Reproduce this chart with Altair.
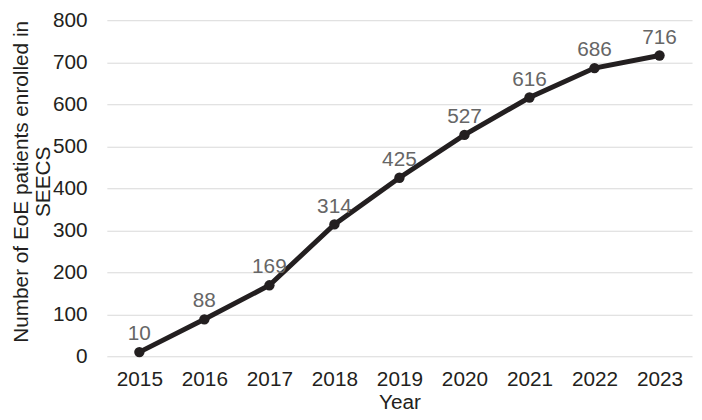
import altair as alt
import pandas as pd

years = ["2015", "2016", "2017", "2018", "2019", "2020", "2021", "2022", "2023"]
patients = [10, 88, 169, 314, 425, 527, 616, 686, 716]

df = pd.DataFrame({"Year": years, "Patients": patients})

FONT = "Liberation Sans"

x = alt.X("Year:N", sort=years,
          scale=alt.Scale(type="point", padding=0.5),
          axis=alt.Axis(title="Year", labelAngle=0, domain=False, ticks=False,
                        labelPadding=13, titlePadding=2, grid=False))
y = alt.Y("Patients:Q",
          scale=alt.Scale(domain=[0, 800], nice=False),
          axis=alt.Axis(title=["Number of EoE patients enrolled in", "SEECS"],
                        values=list(range(0, 801, 100)), domain=False, ticks=False,
                        labelPadding=20, gridColor="#d9d9d9", gridWidth=1,
                        titleAngle=-90, titleX=-86, titleY=163,
                        titleAlign="center", titleBaseline="middle",
                        titleLineHeight=22))

base = alt.Chart(df).encode(x=x, y=y)

line = base.mark_line(color="#231f20", strokeWidth=5)
pts = base.mark_circle(color="#231f20", size=110, opacity=1)
labels = base.mark_text(baseline="bottom", dy=-8, fontSize=21, color="#666666",
                        font=FONT).encode(text="Patients:Q")

chart = (line + pts + labels).properties(
    width=592, height=340,
    autosize=alt.AutoSizeParams(type="none"),
    padding={"left": 100, "top": 10, "right": 2, "bottom": 54},
).configure_axis(
    labelFont=FONT, titleFont=FONT, labelFontSize=21, titleFontSize=21,
    labelColor="#231f20", titleColor="#231f20", titleFontWeight="normal",
).configure_view(stroke=None)

chart.save("out.html", embed_options={"renderer": "svg", "actions": False})
